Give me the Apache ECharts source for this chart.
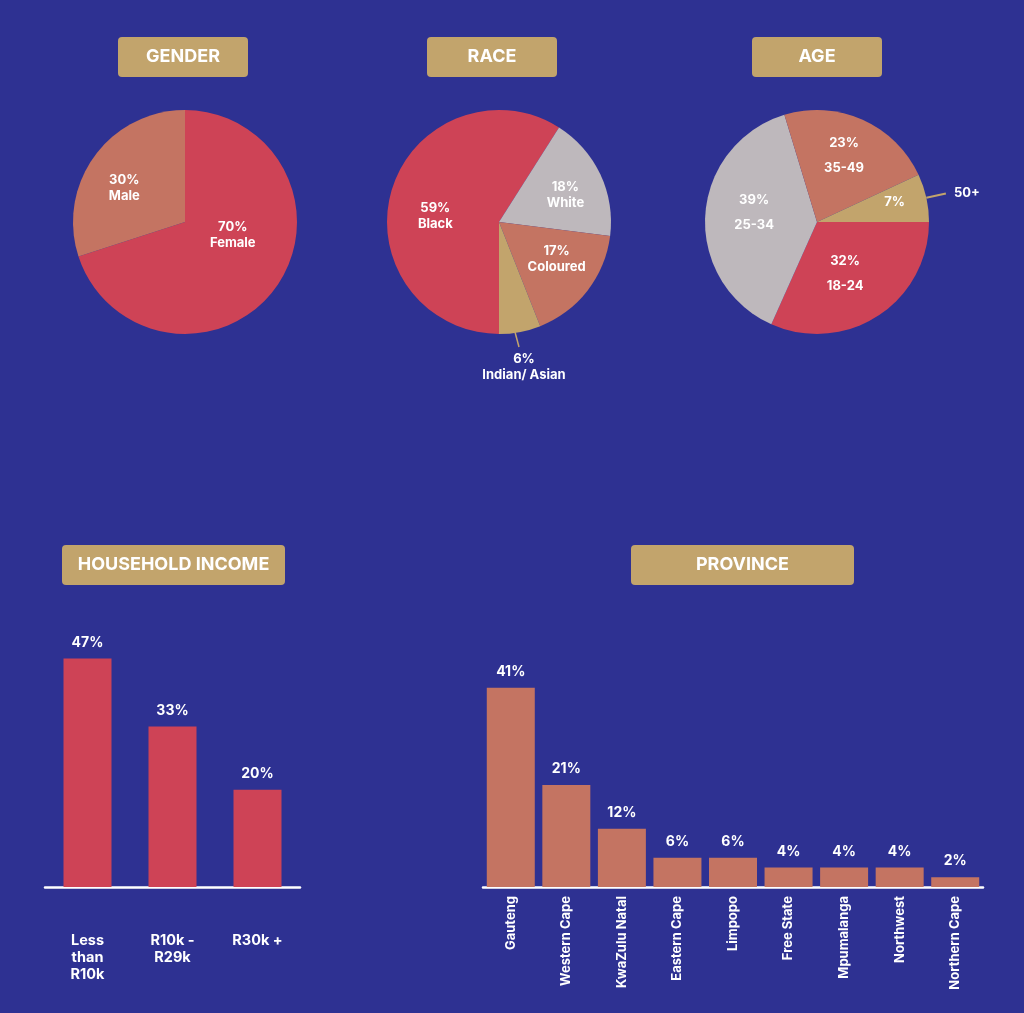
<!DOCTYPE html>
<html><head><meta charset="utf-8">
<script src="https://cdn.jsdelivr.net/npm/echarts@6/dist/echarts.min.js"></script>
<style>html,body{margin:0;padding:0;background:#2E3192;} #c{width:1024px;height:1013px;}</style>
</head><body><div id="c"></div>
<script>
const genderNames = ['Female', 'Male'];
const genderValues = [70, 30];
const raceNames = ['Black', 'White', 'Coloured', 'Indian/ Asian'];
const raceValues = [59, 18, 17, 6];
const ageNames = ['18-24', '25-34', '35-49', '50+'];
const ageValues = [32, 39, 23, 7];
const incomeCategories = ['Less\nthan\nR10k', 'R10k -\nR29k', 'R30k +'];
const incomeValues = [47, 33, 20];
const provinceCategories = ['Gauteng', 'Western Cape', 'KwaZulu Natal', 'Eastern Cape', 'Limpopo', 'Free State', 'Mpumalanga', 'Northwest', 'Northern Cape'];
const provinceValues = [41, 21, 12, 6, 6, 4, 4, 4, 2];
const panelTitles = ['GENDER', 'RACE', 'AGE', 'HOUSEHOLD INCOME', 'PROVINCE'];

const BG = '#2E3192', RED = '#CE4356', SALMON = '#C47462', GREY = '#BEB8BC', GOLD = '#C2A46C';
const FONT = 'Inter, "Noto Sans", sans-serif';

const titleBoxes = [[118, 37, 130], [427, 37, 130], [752, 37, 130], [62, 545, 223], [631, 545, 223]];
const graphic = panelTitles.map((t, i) => ({
  type: 'group', left: titleBoxes[i][0], top: titleBoxes[i][1],
  children: [
    { type: 'rect', shape: { x: 0, y: 0, width: titleBoxes[i][2], height: 40, r: 4 }, style: { fill: GOLD } },
    { type: 'text', x: titleBoxes[i][2] / 2, y: 20, style: { text: t, fill: '#fff', font: 'bold 18px ' + FONT, textAlign: 'center', textVerticalAlign: 'middle' } }
  ]
}));

const labelBase = { color: '#fff', fontFamily: FONT, fontWeight: 'bold', fontSize: 13, lineHeight: 16 };

function pieData(names, values, colors, offsets, extra) {
  return names.map((n, i) => {
    const d = { name: n, value: values[i], itemStyle: { color: colors[i] }, label: { offset: offsets[i] } };
    if (extra && extra[i]) Object.assign(d.label, extra[i]);
    return d;
  });
}

const pieCommon = {
  type: 'pie', radius: 112, clockwise: true, avoidLabelOverlap: false,
  itemStyle: { borderWidth: 0 }, emphasis: { scale: false }, silent: true,
  label: Object.assign({ position: 'inside', formatter: '{c}%\n{b}' }, labelBase),
  labelLine: { show: false }
};

const series = [
  Object.assign({}, pieCommon, {
    center: [185, 222], startAngle: 90,
    data: pieData(genderNames, genderValues, [RED, SALMON], [[0, -22], [-13, 1]])
  }),
  Object.assign({}, pieCommon, {
    center: [499, 222], startAngle: 270,
    labelLine: { show: false, lineStyle: { color: GOLD, width: 1.5 } },
    labelLayout: function (p) {
      if (p.dataIndex !== 3 || !p.labelLinePoints) return {};
      const a = p.labelLinePoints[0];
      return {
        x: a[0] + 4, y: a[1] + 19, align: 'center', verticalAlign: 'top',
        labelLinePoints: [[a[0] - 5, a[1]], [a[0] - 1, a[1] + 15], [a[0] - 1, a[1] + 15]]
      };
    },
    data: pieData(raceNames, raceValues, [RED, GREY, SALMON, GOLD], [[-7, 11], [13, -2], [11, 1], [0, 0]],
      [null, null, null, { position: 'outside' }]).map((d, i) => {
        if (i === 3) d.labelLine = { show: true, length: 14, length2: 0 };
        return d;
      })
  }),
  Object.assign({}, pieCommon, {
    center: [817, 222], startAngle: 0,
    label: Object.assign({ position: 'inside', formatter: '{c}%\n{b}' }, labelBase, { lineHeight: 25 }),
    data: pieData(ageNames, ageValues, [RED, GREY, SALMON, GOLD], [[-4, 2], [-4, -6], [3, -13], [20, -7]],
      [null, null, null, { formatter: '{c}%' }])
  }),
  Object.assign({}, pieCommon, {
    center: [817, 222], startAngle: 0, z: 3,
    itemStyle: { color: 'transparent', borderWidth: 0 },
    label: Object.assign({ show: false, position: 'outside', formatter: '{b}', distanceToLabelLine: 8 }, labelBase),
    labelLine: { show: false, length: 20, length2: 0, smooth: false, lineStyle: { color: GOLD, width: 2 } },
    data: ageNames.map((n, i) => ({
      name: n, value: ageValues[i], itemStyle: { color: 'transparent' },
      label: { show: i === 3 }, labelLine: { show: i === 3 }
    }))
  }),
  {
    type: 'bar', xAxisIndex: 0, yAxisIndex: 0, data: incomeValues, barWidth: 48, silent: true,
    itemStyle: { color: RED },
    label: Object.assign({ show: true, position: 'top', distance: 8, formatter: '{c}%' }, labelBase, { fontSize: 14 })
  },
  {
    type: 'bar', xAxisIndex: 1, yAxisIndex: 1, data: provinceValues, barWidth: 48, silent: true,
    itemStyle: { color: SALMON },
    label: Object.assign({ show: true, position: 'top', distance: 8, formatter: '{c}%' }, labelBase, { fontSize: 14 })
  }
];

const axisLineStyle = { show: true, lineStyle: { color: '#fff', width: 2.5 } };

const option = {
  backgroundColor: BG,
  animation: false,
  graphic: graphic,
  grid: [
    { left: 45, top: 644, width: 255, height: 243 },
    { left: 483, top: 644, width: 500, height: 243 }
  ],
  xAxis: [
    { type: 'category', gridIndex: 0, data: incomeCategories, axisLine: axisLineStyle, axisTick: { show: false },
      axisLabel: Object.assign({ margin: 45, interval: 0 }, labelBase, { fontSize: 14.5, lineHeight: 17 }) },
    { type: 'category', gridIndex: 1, data: provinceCategories, axisLine: axisLineStyle, axisTick: { show: false },
      axisLabel: Object.assign({ margin: 9, interval: 0, rotate: 90 }, labelBase, { fontSize: 13 }) }
  ],
  yAxis: [
    { type: 'value', gridIndex: 0, min: 0, max: 50, show: false, splitLine: { show: false } },
    { type: 'value', gridIndex: 1, min: 0, max: 50, show: false, splitLine: { show: false } }
  ],
  series: series
};

const chart = echarts.init(document.getElementById('c'));
chart.setOption(option);
</script>
</body></html>
